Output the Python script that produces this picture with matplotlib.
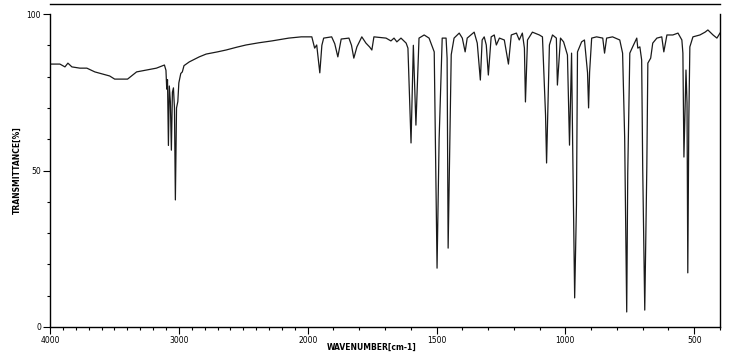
import numpy as np
import matplotlib
matplotlib.use("Agg")
import matplotlib.pyplot as plt
from matplotlib.ticker import FixedLocator

# IR spectrum: wavenumber (cm-1) and transmittance (%)
wavenumber = [
    4000, 3923, 3884, 3861, 3830, 3768, 3714, 3652, 3591, 3537, 3498, 3398,
    3328, 3251, 3174, 3112, 3100, 3094, 3088, 3081, 3074, 3066, 3058, 3050,
    3042, 3034, 3027, 3018, 3008, 3000, 2985, 2973, 2960, 2919, 2880, 2842,
    2788, 2700, 2633, 2550, 2479, 2380, 2278, 2147, 2050, 2000,
    1984, 1973, 1965, 1953, 1945, 1938, 1907, 1895, 1883, 1870, 1840, 1830,
    1821, 1809, 1790, 1774, 1760, 1751, 1743, 1696, 1677, 1665, 1654, 1638,
    1618, 1611, 1599, 1590, 1580, 1568, 1548, 1529, 1509, 1498, 1490, 1478,
    1463, 1459, 1455, 1443, 1432, 1412, 1400, 1389, 1381, 1354, 1342, 1330,
    1323, 1315, 1307, 1299, 1288, 1276, 1268, 1256, 1237, 1221, 1210, 1190,
    1179, 1167, 1159, 1155, 1147, 1128, 1101, 1089, 1077, 1073, 1062, 1050,
    1035, 1031, 1019, 1007, 1000, 992, 984, 976, 972, 964, 957, 953,
    937, 926, 914, 910, 906, 898, 879, 855, 848, 840, 817, 789,
    778, 770, 762, 758, 750, 739, 723, 719, 711, 704, 700, 692,
    684, 680, 669, 661, 645, 626, 618, 606, 583, 563, 548, 544,
    540, 532, 528, 525, 521, 517, 505, 478, 458, 447, 427, 412, 400,
]
transmittance = [
    84.0, 84.0, 83.1, 84.3, 83.1, 82.7, 82.7, 81.5, 80.8, 80.2, 79.2, 79.2,
    81.5, 82.1, 82.7, 83.7, 82.0, 76.0, 79.0, 58.0, 77.0, 72.0, 56.5, 75.0,
    76.4, 70.0, 40.6, 70.0, 72.0, 78.0, 81.0, 81.5, 83.5, 84.7, 85.5, 86.3,
    87.2, 87.9, 88.5, 89.4, 90.1, 90.8, 91.4, 92.3, 92.7, 92.7,
    92.7, 89.1, 90.1, 81.2, 90.0, 92.3, 92.7, 90.5, 86.3, 92.0, 92.3, 90.0,
    85.9, 89.5, 92.7, 90.7, 89.5, 88.5, 92.7, 92.3, 91.4, 92.3, 91.1, 92.3,
    90.7, 89.1, 58.8, 90.0, 64.5, 92.3, 93.3, 92.3, 87.9, 18.8, 60.0, 92.3,
    92.3, 85.9, 25.2, 87.0, 92.3, 93.9, 92.3, 87.9, 92.3, 94.2, 90.7, 78.9,
    91.7, 92.7, 90.1, 80.5, 92.7, 93.3, 90.1, 92.3, 91.7, 84.0, 93.3, 93.9,
    91.7, 93.9, 89.1, 71.9, 91.7, 94.2, 93.3, 92.7, 67.7, 52.4, 90.1, 93.3,
    92.3, 77.3, 92.3, 91.1, 89.1, 86.9, 58.1, 87.5, 59.7, 9.3, 39.0, 87.9,
    91.1, 91.7, 81.2, 70.0, 81.5, 92.3, 92.7, 92.3, 87.5, 92.3, 92.7, 91.7,
    87.5, 60.7, 4.8, 49.2, 87.5, 89.5, 92.3, 89.1, 89.5, 85.3, 51.1, 5.4,
    51.1, 84.3, 85.9, 90.7, 92.3, 92.7, 87.9, 93.3, 93.3, 93.9, 91.7, 87.5,
    54.3, 82.1, 71.6, 17.3, 66.1, 89.5, 92.7, 93.3, 94.2, 94.9, 93.3, 92.3, 93.9,
]

major_ticks = [4000, 3000, 2000, 1500, 1000, 500]
minor_ticks = list(range(400, 4001, 100))
y_major = [0, 50, 100]
y_minor = list(range(0, 101, 10))


# the chart uses a doubled scale below 2000 cm-1
def forward(x):
    x = np.asarray(x, dtype=float)
    return np.where(x > 2000, 2000 + (x - 2000) / 2, x)


def inverse(u):
    u = np.asarray(u, dtype=float)
    return np.where(u > 2000, 2000 + (u - 2000) * 2, u)


fig = plt.figure(figsize=(7.5, 3.53), dpi=100)
ax = fig.add_axes([50 / 750, 26 / 353, 670 / 750, 313 / 353])

ax.plot(wavenumber, transmittance, color="#1a1a1a", lw=0.9)

ax.set_xscale("function", functions=(forward, inverse))
ax.set_xlim(4000, 400)
ax.set_ylim(0, 100)

ax.xaxis.set_major_locator(FixedLocator(major_ticks))
ax.xaxis.set_minor_locator(FixedLocator(minor_ticks))
ax.set_xticklabels([str(t) for t in major_ticks])
ax.yaxis.set_major_locator(FixedLocator(y_major))
ax.yaxis.set_minor_locator(FixedLocator(y_minor))
ax.set_yticklabels([str(t) for t in y_major])

ax.tick_params(which="major", direction="out", length=5, width=0.8,
               labelsize=5.5, pad=1.5, colors="black")
ax.tick_params(which="minor", direction="out", length=2.5, width=0.8)

ax.spines["top"].set_visible(False)
for s in ["left", "bottom", "right"]:
    ax.spines[s].set_linewidth(1.0)

# separate rule drawn above the plot frame
ax.plot([0, 1], [1.032, 1.032], transform=ax.transAxes, color="black",
        lw=1.0, clip_on=False)

ax.set_xlabel("WAVENUMBER[cm-1]", fontsize=5.5, fontweight="bold",
              labelpad=1)
ax.xaxis.set_label_coords(0.48, -0.05)
ax.set_ylabel("TRANSMITTANCE[%]", fontsize=5.5, fontweight="bold")
ax.yaxis.set_label_coords(-0.042, 0.5)

fig.savefig("out.png", dpi=100)
